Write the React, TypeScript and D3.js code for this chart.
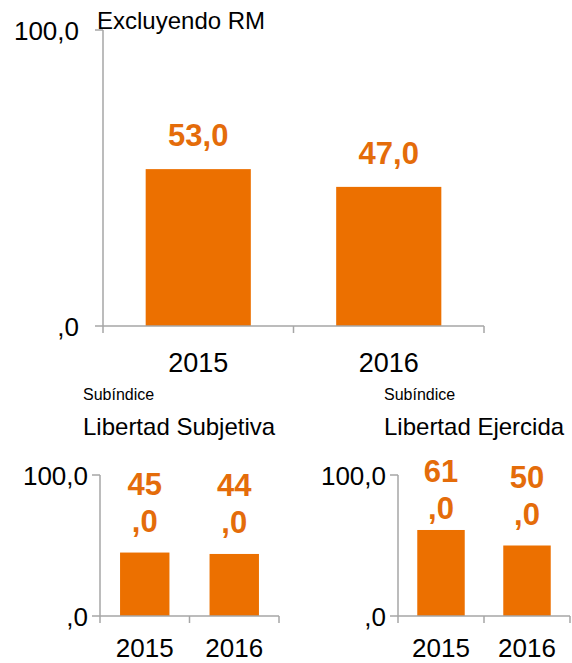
import React from "react";
import * as d3 from "d3";

const years = ["2015", "2016"];
const mainValues = [53.0, 47.0];
const subjValues = [45.0, 44.0];
const ejerValues = [61.0, 50.0];
const yTickLabels = [",0", "100,0"];
const yTickValues = [0, 100];

const BAR = "#EC7000";
const LABEL = "#E46C0A";
const AXIS = "#A6A6A6";
const FONT = "'Liberation Sans', Arial, sans-serif";

type PanelProps = {
  values: number[];
  x0: number;
  x1: number;
  yTop: number;
  yBottom: number;
  split: boolean;
  tickFont: number;
  xFont: number;
  xBaseline: number;
  labelFont: number;
  tickLabelRight: number;
};

function Panel(p: PanelProps) {
  const x = d3.scaleBand<string>().domain(years).range([p.x0, p.x1]).padding(0);
  const y = d3.scaleLinear().domain([0, 100]).range([p.yBottom, p.yTop]);
  const bw = x.bandwidth() * 0.552;
  const ticksX = [p.x0, ...years.map((d) => (x(d) as number) + x.bandwidth())];
  return (
    <g>
      {p.values.map((v, i) => {
        const cx = (x(years[i]) as number) + x.bandwidth() / 2;
        return (
          <rect key={i} x={cx - bw / 2} y={y(v)} width={bw} height={y(0) - y(v)} fill={BAR} />
        );
      })}
      <line x1={p.x0} x2={p.x0} y1={y(100)} y2={y(0)} stroke={AXIS} strokeWidth={1.5} />
      <line x1={p.x0} x2={p.x1} y1={y(0)} y2={y(0)} stroke={AXIS} strokeWidth={1.5} />
      {yTickValues.map((t, i) => (
        <g key={t}>
          <line x1={p.x0 - 8} x2={p.x0} y1={y(t)} y2={y(t)} stroke={AXIS} strokeWidth={1.5} />
          <text
            x={p.tickLabelRight}
            y={y(t) + 10}
            textAnchor="end"
            fontSize={p.tickFont}
            fontFamily={FONT}
            fill="#000"
          >
            {yTickLabels[i]}
          </text>
        </g>
      ))}
      {ticksX.map((tx, i) => (
        <line key={i} x1={tx} x2={tx} y1={y(0)} y2={y(0) + 7} stroke={AXIS} strokeWidth={1.5} />
      ))}
      {years.map((d) => (
        <text
          key={d}
          x={(x(d) as number) + x.bandwidth() / 2}
          y={p.xBaseline}
          textAnchor="middle"
          fontSize={p.xFont}
          fontFamily={FONT}
          fill="#000"
        >
          {d}
        </text>
      ))}
      {p.values.map((v, i) => {
        const cx = (x(years[i]) as number) + x.bandwidth() / 2;
        const txt = v.toFixed(1).replace(".", ",");
        if (!p.split) {
          return (
            <text
              key={i}
              x={cx}
              y={y(v) - 23}
              textAnchor="middle"
              fontSize={p.labelFont}
              fontWeight="bold"
              fontFamily={FONT}
              fill={LABEL}
            >
              {txt}
            </text>
          );
        }
        const [a, b] = txt.split(",");
        const second = Math.max(y(v) - 21, y(100) + 44);
        return (
          <text
            key={i}
            textAnchor="middle"
            fontSize={p.labelFont}
            fontWeight="bold"
            fontFamily={FONT}
            fill={LABEL}
          >
            <tspan x={cx} y={second - 37}>{a}</tspan>
            <tspan x={cx} y={second}>{"," + b}</tspan>
          </text>
        );
      })}
    </g>
  );
}

export default function App() {
  return (
    <svg width={572} height={663} style={{ position: "absolute", left: 0, top: 0 }}>
      <rect width={572} height={663} fill="#fff" />
      <text x={97} y={29} fontSize={24} fontFamily={FONT} fill="#000">
        Excluyendo RM
      </text>
      <Panel
        values={mainValues}
        x0={103}
        x1={484}
        yTop={30}
        yBottom={326}
        split={false}
        tickFont={26}
        xFont={27}
        xBaseline={372}
        labelFont={31}
        tickLabelRight={79}
      />
      <text x={83} y={400} fontSize={16} fontFamily={FONT} fill="#000">Subíndice</text>
      <text x={83} y={435} fontSize={24} fontFamily={FONT} fill="#000">Libertad Subjetiva</text>
      <Panel
        values={subjValues}
        x0={100}
        x1={279}
        yTop={475}
        yBottom={616}
        split={true}
        tickFont={26}
        xFont={26}
        xBaseline={657}
        labelFont={31}
        tickLabelRight={88}
      />
      <text x={384} y={400} fontSize={16} fontFamily={FONT} fill="#000">Subíndice</text>
      <text x={384} y={435} fontSize={24} fontFamily={FONT} fill="#000">Libertad Ejercida</text>
      <Panel
        values={ejerValues}
        x0={398}
        x1={570}
        yTop={475}
        yBottom={616}
        split={true}
        tickFont={26}
        xFont={26}
        xBaseline={657}
        labelFont={31}
        tickLabelRight={386}
      />
    </svg>
  );
}
